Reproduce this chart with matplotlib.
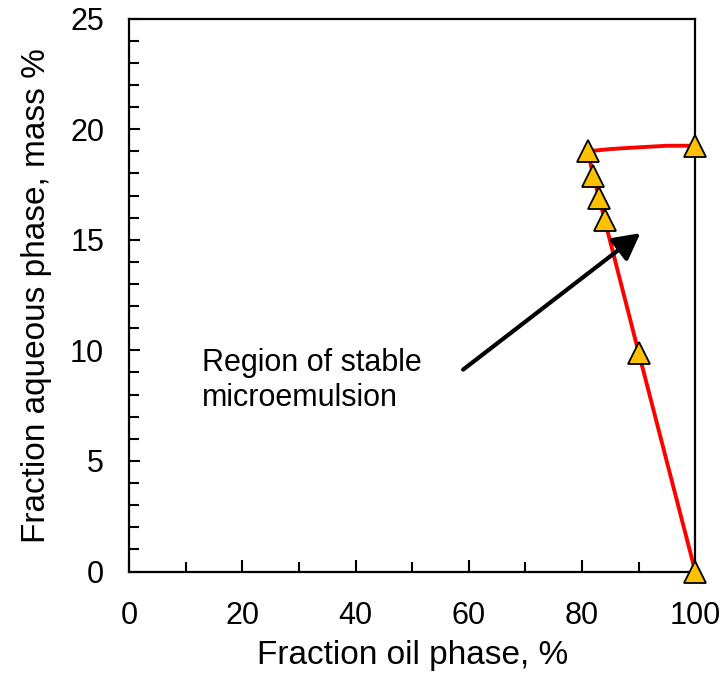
import matplotlib
matplotlib.use("Agg")
import matplotlib.pyplot as plt
from matplotlib.ticker import MultipleLocator

plt.rcParams['font.family'] = ['Liberation Sans', 'DejaVu Sans']

# data points (oil phase %, aqueous phase mass %)
pts_x = [81, 82, 83, 84, 90, 100, 100]
pts_y = [19.0, 17.9, 16.9, 15.9, 9.9, 0.0, 19.25]
# red boundary lines
top_x = [81, 85, 88, 95, 100]
top_y = [19.0, 19.1, 19.15, 19.25, 19.25]
side_x = [81, 82, 83, 84, 90, 100]
side_y = [19.0, 17.9, 16.9, 15.9, 9.9, 0.0]

fig = plt.figure(figsize=(7.25, 6.87), dpi=100)
ax = fig.add_axes([0.178, 0.168, 0.781, 0.805])

ax.plot(top_x, top_y, color='#FF0000', lw=2.8, zorder=2)
ax.plot(side_x, side_y, color='#FF0000', lw=2.8, zorder=2)
ax.plot(pts_x, pts_y, linestyle='none', marker='^', markersize=16,
        markerfacecolor='#FFC000', markeredgecolor='black', markeredgewidth=1.3,
        zorder=3, clip_on=False)

ax.set_xlim(0, 100)
ax.set_ylim(0, 25)
ax.xaxis.set_major_locator(MultipleLocator(20))
ax.xaxis.set_minor_locator(MultipleLocator(10))
ax.yaxis.set_major_locator(MultipleLocator(5))
ax.yaxis.set_minor_locator(MultipleLocator(1))
ax.tick_params(which='both', direction='in', width=1.5, top=False, right=False,
               labelsize=22)
ax.tick_params(axis='x', which='major', length=8.5, pad=21)
ax.tick_params(axis='x', which='minor', length=7)
ax.tick_params(axis='y', which='major', length=8, pad=18)
ax.tick_params(axis='y', which='minor', length=7)
for s in ax.spines.values():
    s.set_linewidth(1.6)

ax.set_xlabel('Fraction oil phase, %', fontsize=24, labelpad=7)
ax.set_ylabel('Fraction aqueous phase, mass %', fontsize=24, labelpad=13)

ax.annotate('', xy=(90.3, 15.3), xytext=(59.0, 9.13),
            arrowprops=dict(arrowstyle='-|>,head_length=1.6,head_width=0.85',
                            color='black', lw=3, shrinkA=0, shrinkB=0))
ax.text(12.9, 10.1, 'Region of stable\nmicroemulsion', fontsize=22, va='top', ha='left',
        linespacing=1.2)

fig.savefig('out.png', dpi=100)
